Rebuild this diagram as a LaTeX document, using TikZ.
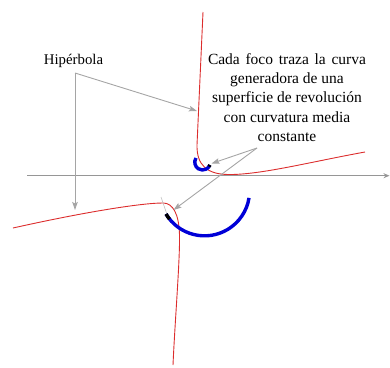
\documentclass[tikz,border=0pt]{standalone}
\usepackage{fontspec}
\setmainfont{Liberation Serif}
\usetikzlibrary{arrows.meta}
\definecolor{curvered}{RGB}{220,45,45}
\definecolor{arcblue}{RGB}{0,0,215}
\definecolor{arrowgray}{RGB}{165,165,165}
\definecolor{axisgray}{RGB}{150,150,150}
\tikzset{
  redcurve/.style={draw=curvered, line width=0.9pt},
  bluearc/.style={draw=arcblue, line width=3.4pt},
  blacktip/.style={draw=black, line width=3.4pt},
  pointer/.style={draw=arrowgray, line width=0.9pt, -{Stealth[length=8pt,width=5.5pt,inset=1.5pt]}},
  axisline/.style={draw=axisgray, line width=1.3pt, -{Stealth[length=6pt,width=5pt]}},
  label/.style={inner sep=0pt, text=black}
}
\begin{document}
\begin{tikzpicture}[x=1pt,y=-1pt]
\useasboundingbox (0,0) rectangle (390,367);

% axis
\coordinate (axL) at (27,175.7);
\coordinate (axR) at (389.5,175.7);
\draw[axisline] (axL) -- (axR);

% upper branch of the hyperbola
\coordinate (u0) at (203,12);
\coordinate (u1) at (197,145);
\coordinate (u2) at (228,174.5);
\coordinate (u3) at (365,152);
\draw[redcurve] (u0) -- (u1) .. controls (196.6,165) and (207,174.2) .. (u2)
  .. controls (260,175) and (310,162) .. (u3);

% lower branch of the hyperbola
\coordinate (l0) at (13,228);
\coordinate (l1) at (163,203);
\coordinate (l2) at (179.5,235);
\coordinate (l3) at (173,365);
\draw[redcurve] (l0) .. controls (80,213) and (140,203) .. (l1)
  .. controls (173,203) and (179,214) .. (l2)
  .. controls (180,260) and (175,320) .. (l3);

% thin gray tick near lower focus
\coordinate (t0) at (161,197);
\coordinate (t1) at (166.5,213);
\draw[draw=arrowgray!70, line width=0.6pt] (t0) -- (t1);

% small arc traced by upper focus
\coordinate (sa) at (196,158);
\draw[bluearc] (sa) arc[start angle=212.5, end angle=21, radius=7.8];
\coordinate (sc) at (202.6,162.2);
\draw[blacktip] (sc) ++(34:7.8) arc[start angle=34, end angle=21, radius=7.8];

% large arc traced by lower focus
\coordinate (la) at (166,214);
\draw[bluearc] (la) arc[start angle=149, end angle=9, radius=45];
\draw[blacktip] (la) arc[start angle=149, end angle=141, radius=45];

% labels
\node[label, font=\fontsize{14.8}{18}\selectfont, anchor=base] (hip) at (73.5,64) {Hipérbola};
\node[label, font=\fontsize{15.5}{19.2}\selectfont, align=center, anchor=north] (txt) at (287,53.3)
  {\makebox[158pt][s]{Cada foco traza la curva}\\generadora de una\\superficie de revolución\\con curvatura media\\constante};

% pointers
\coordinate (hj) at (75,73);
\coordinate (h1) at (197,111);
\coordinate (h2) at (75,210);
\draw[pointer] (hj) -- (h1);
\draw[pointer] (hj) -- (h2);

\coordinate (cj) at (257,148);
\coordinate (c1) at (211.5,163.5);
\coordinate (c2) at (173.5,210);
\draw[pointer] (cj) -- (c1);
\draw[pointer] (cj) -- (c2);
\end{tikzpicture}
\end{document}
